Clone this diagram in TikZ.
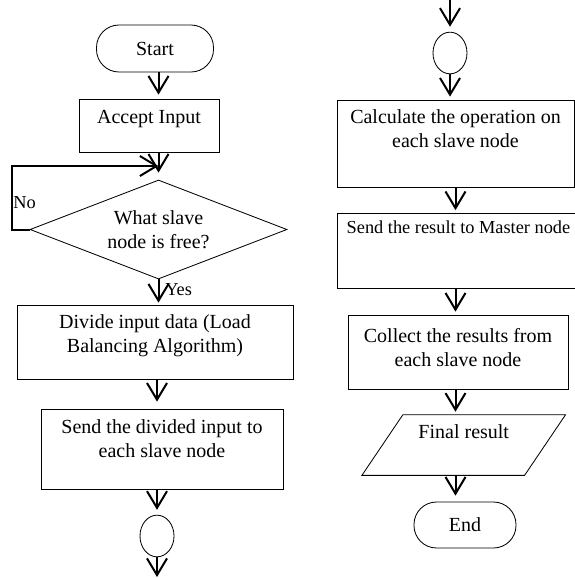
\documentclass[tikz,border=0pt]{standalone}
\usepackage{fontspec}
\setmainfont{Liberation Serif}
\usetikzlibrary{arrows.meta}
\usetikzlibrary{shapes.geometric}
\newcommand*{\BoxText}[4]{\parbox[c][#2][t]{#1}{\centering\vspace*{#3}#4}}
\tikzstyle{terminal}=[draw, rectangle, rounded corners=13.5pt, line width=0.5pt, inner sep=0pt]
\tikzstyle{process}=[draw, rectangle, line width=0.5pt, inner sep=0pt]
\tikzstyle{decision}=[draw, diamond, shape aspect=2.6, line width=0.5pt, inner sep=0pt, align=center]
\tikzstyle{connector}=[draw, ellipse, line width=0.5pt, minimum width=20.4pt, minimum height=25pt, inner sep=0pt]
\tikzstyle{io}=[rectangle, minimum width=97.2pt, minimum height=36pt, text height=8pt, text depth=16.4pt]
\tikzstyle{branch}=[anchor=west, inner sep=0pt, font=\fontsize{11}{13.2}\selectfont]
\tikzstyle{flow}=[line width=1.2pt, -{Straight Barb[length=10pt, width=12pt]}]

\begin{document}
\begin{tikzpicture}[x=0.6pt, y=-0.6pt, font=\fontsize{12}{14.4}\selectfont]
    \useasboundingbox (0,0) rectangle (575,578);
    % left column
    \node[terminal, minimum width=70.2pt, minimum height=28.2pt] (s1) at (155,48.5) {Start};
    \node[process] (b1) at (149,125.5) {\BoxText{84pt}{31.8pt}{6.6pt}{Accept Input}};
    \node[decision, minimum width=154.2pt, minimum height=59.4pt] (d1) at (158.5,229.5) {What slave\\node is free?};
    \node[process] (b2) at (155,342) {\BoxText{165.6pt}{44.4pt}{6pt}{Divide input data (Load\\Balancing Algorithm)}};
    \node[process] (b3) at (162,449) {\BoxText{145.2pt}{48pt}{6.6pt}{Send the divided input to\\each slave node}};
    \node[connector] (c1) at (157,536) {};
    \coordinate (k1) at (12,166);
    \coordinate (o1) at (157,577);
    \node[branch] (l1) at (13,203) {No};
    \node[branch] (l2) at (165,290) {Yes};
    % right column
    \coordinate (i1) at (450,0);
    \node[connector] (c2) at (450,53) {};
    \node[process] (b4) at (455.5,143.5) {\BoxText{142.2pt}{52.2pt}{6pt}{Calculate the operation on\\each slave node}};
    \node[process, font=\fontsize{11}{13.2}\selectfont] (b5) at (458.5,251) {\BoxText{145.8pt}{45pt}{4.2pt}{Send the result to Master node}};
    \node[process] (b6) at (458,352) {\BoxText{132pt}{44.4pt}{7.8pt}{Collect the results from\\each slave node}};
    \node[io] (p1) at (463.75,445) {Final result};
    \draw[line width=0.5pt] ([xshift=-12.3pt]p1.south west) -- ([xshift=12.3pt]p1.north west)
        -- ([xshift=12.3pt]p1.north east) -- ([xshift=-12.3pt]p1.south east) -- cycle;
    \node[terminal, minimum width=61.2pt, minimum height=27.6pt] (e1) at (465,525) {End};

    \draw[flow, shorten >=2.4pt] (s1.south -| d1.north) -- (b1.north -| d1.north);
    \draw[flow, shorten >=4.2pt] (b1.south -| d1.north) -- (d1.north);
    \draw[flow] (d1.west) -| (k1) -- (k1 -| d1.north);
    \draw[flow, shorten >=1.2pt] (d1.south) -- (b2.north -| d1.south);
    \draw[flow, shorten >=4.2pt] (b2.south -| c1.north) -- (b3.north -| c1.north);
    \draw[flow, shorten >=3pt] (b3.south -| c1.north) -- (c1.north);
    \draw[flow] (c1.south) -- (o1);

    \draw[flow, shorten >=3pt] (i1) -- (c2.north);
    \draw[flow, shorten >=1.8pt] (c2.south) -- (b4.north -| c2.south);
    \draw[flow, shorten >=1.8pt] (b4.south -| b4.south) -- (b5.north -| b4.south);
    \draw[flow, shorten >=1.8pt] (b5.south -| b4.south) -- (b6.north -| b4.south);
    \draw[flow, shorten >=1.8pt] (b6.south -| b4.south) -- (p1.north -| b4.south);
    \draw[flow, shorten >=3.6pt] (p1.south -| b4.south) -- (e1.north -| b4.south);
\end{tikzpicture}
\end{document}
